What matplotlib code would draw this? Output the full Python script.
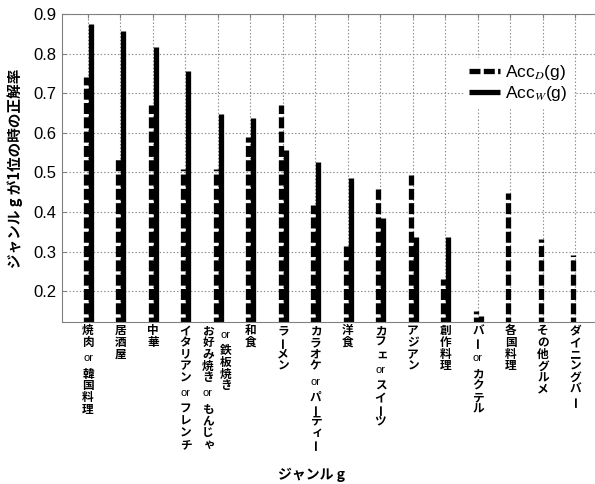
import numpy as np
import matplotlib
matplotlib.use('Agg')
import matplotlib.pyplot as plt
from matplotlib.transforms import offset_copy

plt.rcParams['font.family'] = ['Liberation Sans', 'Noto Sans CJK JP']
plt.rcParams['mathtext.fontset'] = 'stix'
plt.rcParams['lines.scale_dashes'] = False

# datos
genres = [['焼肉 or 韓国料理'], ['居酒屋'], ['中華'], ['イタリアン or フレンチ'],
          ['お好み焼き or もんじゃ', 'or 鉄板焼き'], ['和食'], ['ラーメン'],
          ['カラオケ or パーティー'], ['洋食'], ['カフェ or スイーツ'], ['アジアン'],
          ['創作料理'], ['バー or カクテル'], ['各国料理'], ['その他グルメ'],
          ['ダイニングバー']]
acc_d = [0.740, 0.535, 0.670, 0.509, 0.509, 0.590, 0.670, 0.419,
         0.315, 0.457, 0.493, 0.230, 0.151, 0.449, 0.331, 0.292]
acc_w = [0.876, 0.857, 0.817, 0.756, 0.647, 0.637, 0.556, 0.526,
         0.486, 0.385, 0.337, 0.336, 0.137, 0.0, 0.0, 0.0]
yticks = [0.2, 0.3, 0.4, 0.5, 0.6, 0.7, 0.8, 0.9]

W, H = 595, 484
fig = plt.figure(figsize=(W / 100, H / 100), dpi=100)
ax = fig.add_axes([62 / W, 1 - 322 / H, 539.5 / W, 308 / H])

x = np.arange(1, len(genres) + 1)
for i in range(len(x)):
    ax.plot([x[i] - 0.07] * 2, [0, acc_d[i]], color='k', lw=3.8,
            dashes=(7.9, 2.4), dash_capstyle='butt', solid_capstyle='butt',
            label=r'Acc$_{D}$(g)' if i == 0 else None)
    ax.plot([x[i] + 0.085] * 2, [0, acc_w[i]], color='k', lw=3.8,
            solid_capstyle='butt',
            label=r'Acc$_{W}$(g)' if i == 0 else None)

ax.set_xlim(0.2, 16.8)
ax.set_ylim(0.1225, 0.9)
ax.set_xticks(x)
ax.set_xticklabels([])
ax.set_yticks(yticks)
ax.set_yticklabels(['%.1f' % v for v in yticks], fontsize=12)
ax.tick_params(direction='in', length=3, top=True, right=False, color='#808080', pad=4)
ax.set_axisbelow(True)
ax.grid(True, color='#8a8a8a', linestyle=(0, (1, 1.5)), linewidth=0.8)
for s in ax.spines.values():
    s.set_color('#808080')
ax.spines['right'].set_visible(False)

# etiquetas verticales
small = 'ャィッェゃュョァ'
pitch = 11.7
for i, cols in enumerate(genres):
    offs = [0] if len(cols) == 1 else [-10, 8]
    for col, dx in zip(cols, offs):
        y = 3
        for tok in col.split(' '):
            if tok == 'or':
                tr = offset_copy(ax.get_xaxis_transform(), fig, x=dx, y=-(y + 10), units='dots')
                ax.text(x[i], 0, 'or', transform=tr, ha='center', va='center',
                        fontsize=8, family='Liberation Sans')
                y += 20
                continue
            for ch in tok:
                ddx = 2 if ch in small else 0
                tr = offset_copy(ax.get_xaxis_transform(), fig, x=dx + ddx,
                                 y=-(y + pitch / 2), units='dots')
                ax.text(x[i], 0, ch, transform=tr, ha='center', va='center',
                        fontsize=8.4, family='Noto Sans CJK JP', weight='bold',
                        rotation=90 if ch == 'ー' else 0)
                y += pitch

fig.text(15 / W, 1 - 168 / H, 'ジャンル g が1位の時の正解率', rotation=90, ha='center',
         va='center', fontsize=10.5, family='Noto Sans CJK JP', weight='bold')
fig.text(311 / W, 1 - 475 / H, 'ジャンル g', ha='center', va='center',
         fontsize=10, family='Noto Sans CJK JP', weight='bold')

leg = ax.legend(loc='upper left', bbox_to_anchor=(455 / W, 1 - 49 / H),
                bbox_transform=fig.transFigure, fontsize=12.5, handlelength=1.8,
                handletextpad=0.3, labelspacing=0.1, borderpad=0.3,
                fancybox=False, framealpha=1)
leg.get_frame().set_edgecolor('white')

fig.savefig('out.png', dpi=100)
